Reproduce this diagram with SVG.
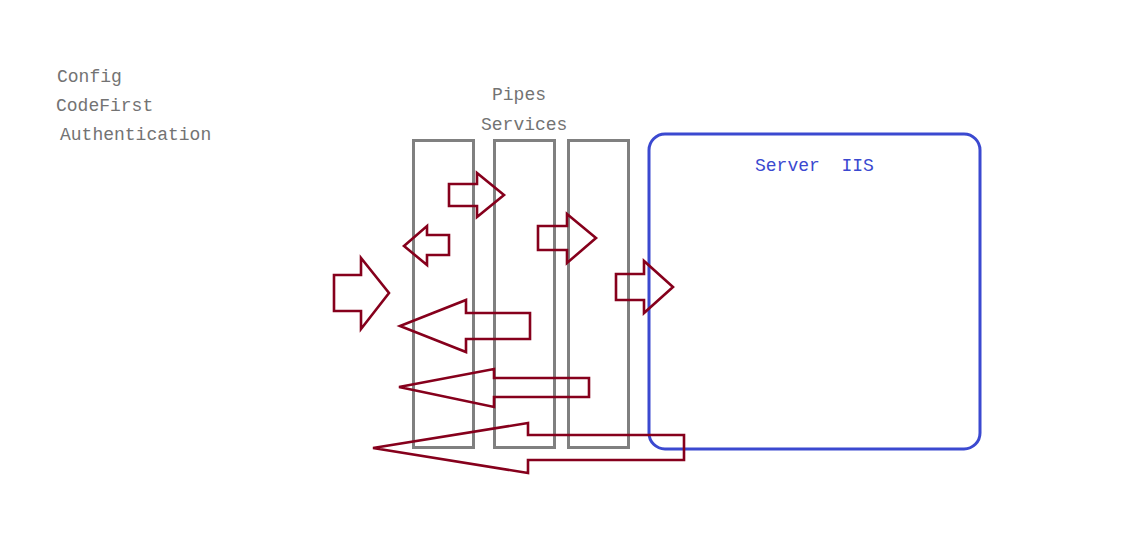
<svg xmlns="http://www.w3.org/2000/svg" width="1127" height="544" viewBox="0 0 1127 544">
<style>
.lbl{font-family:"Liberation Mono","DejaVu Sans Mono",monospace;font-size:18px;fill:#737373;white-space:pre}
.srv{fill:#3b49d0}
.col{fill:none;stroke:#808080;stroke-width:3}
.box{fill:none;stroke:#3b49d0;stroke-width:3}
.arr{fill:none;stroke:#86001c;stroke-width:2.6;stroke-linejoin:miter}
</style>
<rect width="1127" height="544" fill="#ffffff"/>
<g id="labels">
<text class="lbl" x="57" y="82">Config</text>
<text class="lbl" x="56" y="111">CodeFirst</text>
<text class="lbl" x="60" y="140">Authentication</text>
</g>
<g id="pipes">
<text class="lbl" x="492" y="100">Pipes</text>
<rect class="col" x="413.5" y="140.5" width="60" height="307"/>
</g>
<g id="services">
<text class="lbl" x="481" y="130">Services</text>
<rect class="col" x="494.5" y="140.5" width="60" height="307"/>
</g>
<g id="column3">
<rect class="col" x="568.5" y="140.5" width="60" height="307"/>
</g>
<g id="server">
<rect class="box" x="649" y="134" width="331" height="315" rx="16"/>
<text class="lbl srv" x="755" y="171">Server  IIS</text>
</g>
<g id="connectors">
<polygon class="arr" points="449,184 477,184 477,173 504,195 477,217 477,206 449,206"/>
<polygon class="arr" points="449,235 427,235 427,226 404,246 427,265 427,255 449,255"/>
<polygon class="arr" points="538,226 567,226 567,214 596,238 567,263 567,250 538,250"/>
<polygon class="arr" points="616,274 644,274 644,261 673,287 644,313 644,300 616,300"/>
<polygon class="arr" points="334,275 361,275 361,258 389,293 361,329 361,311 334,311"/>
<polygon class="arr" points="530,313 466,313 466,300 400,326 466,352 466,339 530,339"/>
<polygon class="arr" points="589,378 494,378 494,369 399,387 494,407 494,397 589,397"/>
<polygon class="arr" points="684,435 528,435 528,423 373,448 528,473 528,460 684,460"/>
</g>
</svg>
